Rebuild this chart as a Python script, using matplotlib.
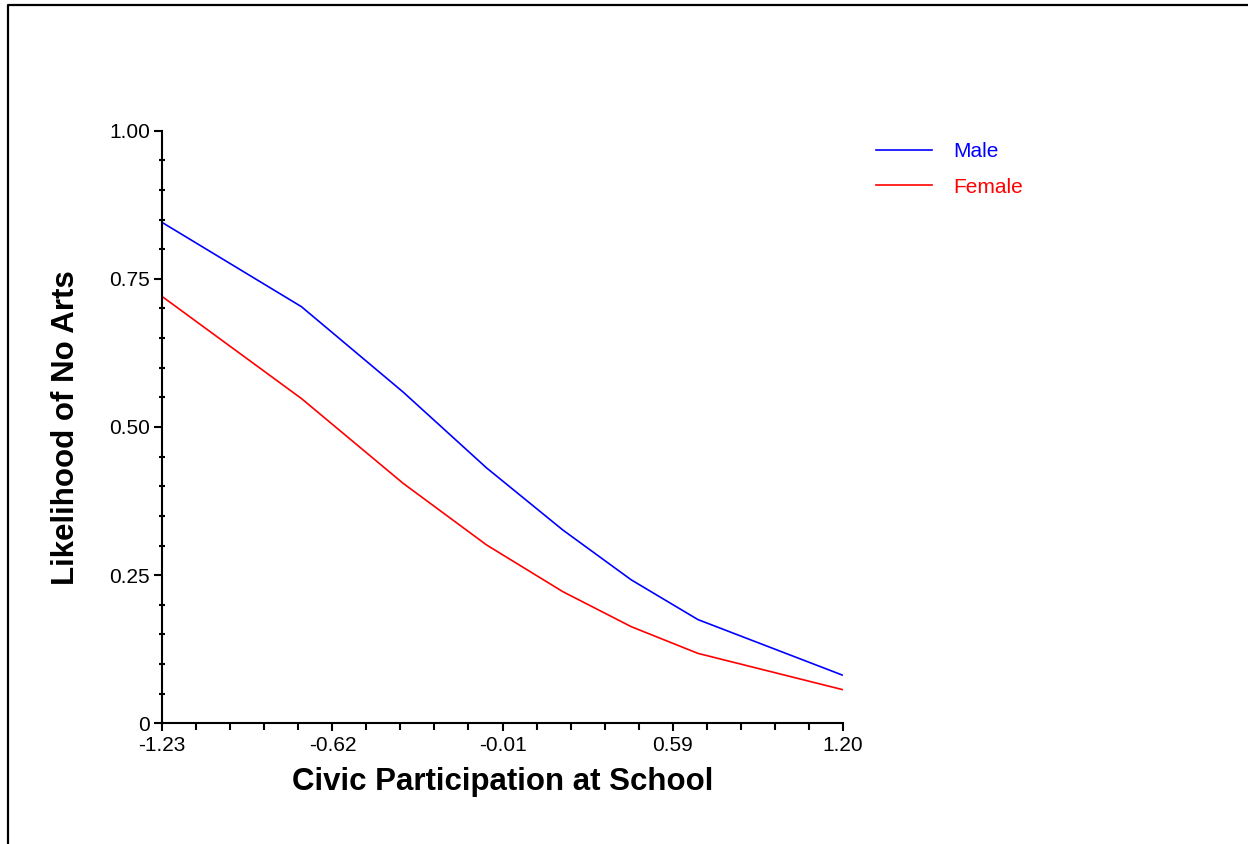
import matplotlib.pyplot as plt
import numpy as np
from matplotlib.lines import Line2D
from matplotlib.ticker import MultipleLocator, FixedLocator

plt.rcParams['font.family'] = ['Liberation Sans', 'DejaVu Sans']

# data
civic = [-1.23, -0.733, -0.370, -0.072, 0.201, 0.445, 0.683, 1.198]
male = [0.845, 0.703, 0.559, 0.431, 0.326, 0.242, 0.175, 0.0815]
female = [0.720, 0.548, 0.405, 0.301, 0.222, 0.163, 0.118, 0.057]

xtick_vals = [-1.23, -0.6225, -0.015, 0.5925, 1.20]
xtick_labels = ['-1.23', '-0.62', '-0.01', '0.59', '1.20']
ytick_vals = [0, 0.25, 0.5, 0.75, 1.0]
ytick_labels = ['0', '0.25', '0.50', '0.75', '1.00']

W, H = 1248, 844
fig = plt.figure(figsize=(W / 100, H / 100), dpi=100)
ax = fig.add_axes([162.3 / W, (H - 723.3) / H, (842.7 - 162.3) / W, (723.3 - 130.7) / H])

ax.plot(civic, male, color='#0000ff', lw=1.2, label='Male')
ax.plot(civic, female, color='#ff0000', lw=1.2, label='Female')

ax.set_xlim(-1.23, 1.20)
ax.set_ylim(0, 1.0)
ax.set_xticks(xtick_vals)
ax.set_xticklabels(xtick_labels, fontsize=15)
ax.set_yticks(ytick_vals)
ax.set_yticklabels(ytick_labels, fontsize=15)
step = (1.20 + 1.23) / 20
ax.xaxis.set_minor_locator(FixedLocator(np.arange(-1.23, 1.2001, step)))
ax.yaxis.set_minor_locator(MultipleLocator(0.05))

for s in ['top', 'right']:
    ax.spines[s].set_visible(False)
for s in ['left', 'bottom']:
    ax.spines[s].set_linewidth(1.5)
ax.tick_params(axis='both', which='major', length=6, width=1.5, direction='out', pad=3, colors='black')
ax.tick_params(axis='y', which='minor', length=5, width=1.5, direction='inout')
ax.tick_params(axis='x', which='minor', length=5, width=1.5, direction='out')

fig.text(503 / W, 1 - 782 / H, 'Civic Participation at School', fontsize=22.5,
         fontweight='bold', ha='center', va='center')
fig.text(66 / W, 1 - 428 / H, 'Likelihood of No Arts', fontsize=22.5,
         fontweight='bold', ha='center', va='center', rotation=90)

leg = fig.legend(loc='upper left', bbox_to_anchor=(876 / W, 1 - 142 / H), frameon=False,
                 fontsize=15, handlelength=2.7, handletextpad=1.0, labelspacing=0.8,
                 borderaxespad=0, borderpad=0)
for txt, line in zip(leg.get_texts(), leg.get_lines()):
    txt.set_color(line.get_color())

# outer frame (top and left only)
fig.add_artist(Line2D([7.5 / W, 7.5 / W, 1.0], [0.0, 1 - 4.5 / H, 1 - 4.5 / H],
                      transform=fig.transFigure, color='black', lw=1.6))

fig.savefig('out.png', dpi=100)
